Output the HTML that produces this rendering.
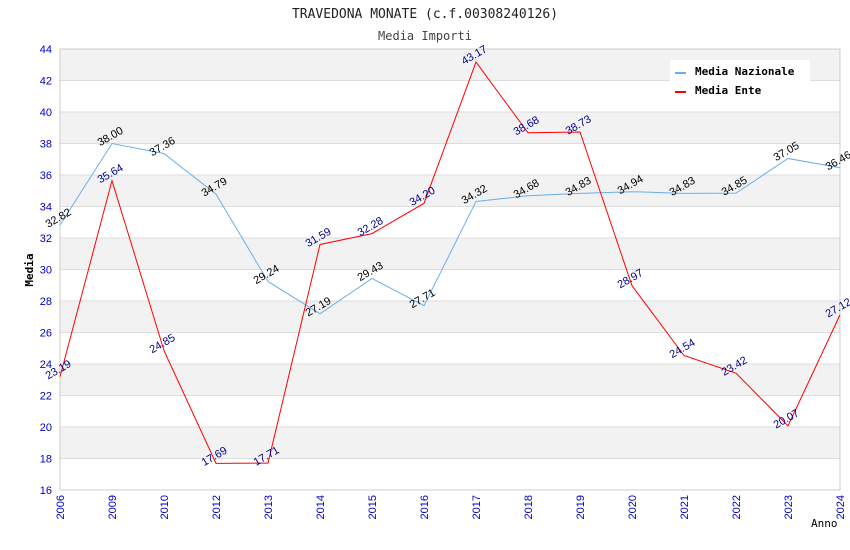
<!DOCTYPE html>
<html><head><meta charset="utf-8"><style>
body{margin:0;background:#fff;}
svg{display:block;font-family:"DejaVu Sans Mono","Liberation Mono",monospace;}
</style></head><body>
<svg id="chart" width="850" height="550">
<text x="425" y="18" text-anchor="middle" font-size="13" fill="#222">TRAVEDONA MONATE (c.f.00308240126)</text>
<text x="425" y="40" text-anchor="middle" font-size="12" fill="#444">Media Importi</text>
<g id="grid"></g><g id="axes"></g><g id="series"></g><g id="labels"></g>
<text x="33" y="270" font-size="11" font-weight="bold" fill="#000" transform="rotate(-90 33 270)" text-anchor="middle">Media</text>
<text x="811" y="527" font-size="11" fill="#000">Anno</text>
<g>
<rect x="670" y="60" width="140" height="42" fill="#fff"/>
<g><rect x="675" y="72" width="11" height="2" fill="#6aaeee"/><text x="695" y="75" font-size="11" font-weight="bold">Media Nazionale</text></g>
<g><rect x="675" y="91" width="11" height="2" fill="#f00"/><text x="695" y="94" font-size="11" font-weight="bold">Media Ente</text></g>
</g>
</svg>
<script>
const categories=["2006","2009","2010","2012","2013","2014","2015","2016","2017","2018","2019","2020","2021","2022","2023","2024"];
const nazionale=[32.82,38.00,37.36,34.79,29.24,27.19,29.43,27.71,34.32,34.68,34.83,34.94,34.83,34.85,37.05,36.46];
const ente=[23.19,35.64,24.85,17.69,17.71,31.59,32.28,34.20,43.17,38.68,38.73,28.97,24.54,23.42,20.07,27.12];
const yTicks=[16,18,20,22,24,26,28,30,32,34,36,38,40,42,44];
const NS="http://www.w3.org/2000/svg";
const L=60,R=840,T=49,B=490,ymin=16,ymax=44;
const xs=i=>L+i*(R-L)/(categories.length-1);
const ys=v=>B-(v-ymin)*(B-T)/(ymax-ymin);
function mk(tag,attrs,parent){const e=document.createElementNS(NS,tag);for(const k in attrs)e.setAttribute(k,attrs[k]);document.getElementById(parent).appendChild(e);return e;}
for(let i=0;i<yTicks.length-1;i++){
 const a=yTicks[i],b=yTicks[i+1];
 if(((a-ymin)/2)%2===1){const r=mk('rect',{x:L,y:ys(b),width:R-L,height:ys(a)-ys(b),fill:'#f2f2f2'},'grid');
 
 }
}
yTicks.forEach(v=>{
 const l=mk('line',{x1:L,x2:R,y1:ys(v),y2:ys(v),stroke:'#ddd'},'grid');
 
 
 const t=mk('text',{x:L-8,y:ys(v)+4,'text-anchor':'end','font-size':11,fill:'#00c','font-family':'Liberation Sans, sans-serif'},'axes');t.textContent=v;
 
 
});
mk('rect',{x:L,y:T,width:R-L,height:B-T,fill:'none',stroke:'#ccc'},'axes');
categories.forEach((c,i)=>{
 const x=xs(i);
 const t=mk('text',{x:x+4,y:B+5,'text-anchor':'end','font-size':11,fill:'#00c','font-family':'Liberation Sans, sans-serif',transform:`rotate(-90 ${x+4} ${B+5})`},'axes');t.textContent=c;
 
 
});
function draw(vals,color,lc,name){
 const p=mk('polyline',{points:vals.map((v,i)=>xs(i)+','+ys(v)).join(' '),fill:'none',stroke:color,'stroke-width':1},'series');
 
 
 vals.forEach((v,i)=>{
  const x=xs(i),y=ys(v)-4;
  const t=mk('text',{x:x,y:y,'text-anchor':'middle','font-size':11,fill:lc,'font-family':'Liberation Sans, sans-serif',transform:`rotate(-30 ${x} ${y})`},'labels');t.textContent=v.toFixed(2);
  
  
 });
}
draw(nazionale,'#6aaeee','#000','nazionale');
draw(ente,'#f00','#00008b','ente');
</script>
</body></html>
